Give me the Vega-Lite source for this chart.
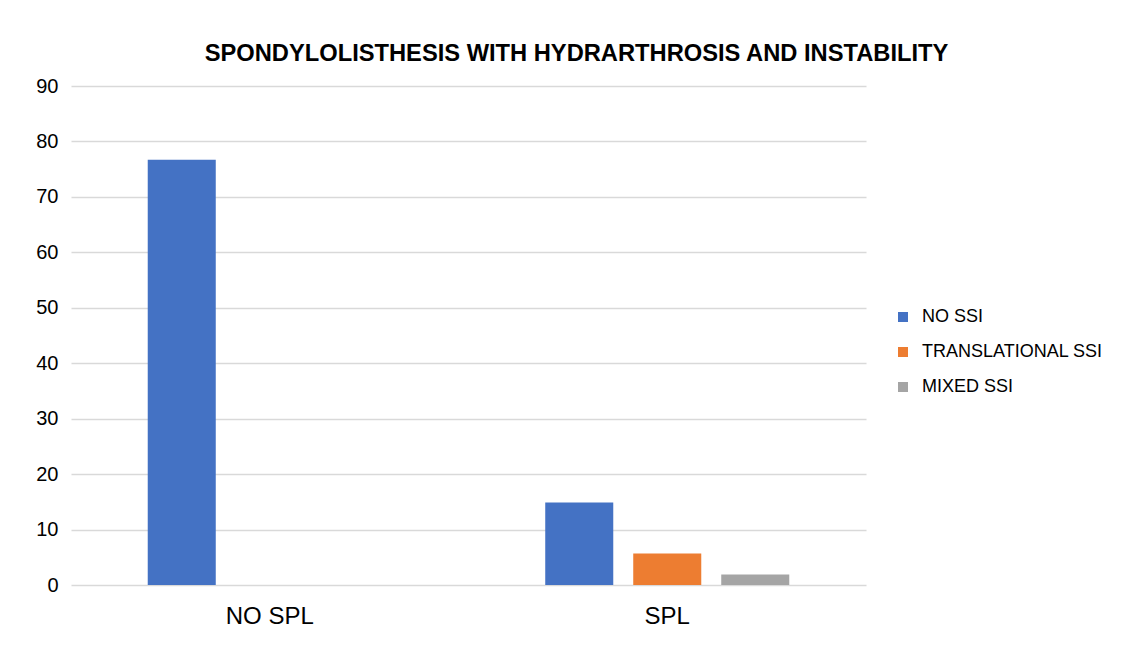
{
  "$schema": "https://vega.github.io/schema/vega-lite/v6.json",
  "width": 795,
  "height": 499,
  "padding": {"left": 35, "top": 42, "right": 10, "bottom": 10},
  "background": "white",
  "title": {
    "text": "SPONDYLOLISTHESIS WITH HYDRARTHROSIS AND INSTABILITY",
    "fontSize": 23.7,
    "fontWeight": "bold",
    "font": "Liberation Sans",
    "color": "#000000",
    "anchor": "middle",
    "dx": 108,
    "offset": 10
  },
  "data": {
    "values": [
      {"group": "NO SPL", "series": "NO SSI", "value": 76.7},
      {"group": "NO SPL", "series": "TRANSLATIONAL SSI", "value": 0},
      {"group": "NO SPL", "series": "MIXED SSI", "value": 0},
      {"group": "SPL", "series": "NO SSI", "value": 14.9},
      {"group": "SPL", "series": "TRANSLATIONAL SSI", "value": 5.7},
      {"group": "SPL", "series": "MIXED SSI", "value": 1.9}
    ]
  },
  "mark": {"type": "bar"},
  "encoding": {
    "x": {
      "field": "group",
      "type": "nominal",
      "sort": ["NO SPL", "SPL"],
      "scale": {"paddingInner": 0, "paddingOuter": 0},
      "axis": {
        "title": null,
        "labelAngle": 0,
        "labelFontSize": 24,
        "labelFont": "Liberation Sans",
        "labelColor": "#000000",
        "domain": false,
        "ticks": false,
        "labelPadding": 19
      }
    },
    "xOffset": {
      "field": "series",
      "type": "nominal",
      "sort": ["NO SSI", "TRANSLATIONAL SSI", "MIXED SSI"],
      "scale": {"paddingInner": 0.227, "paddingOuter": 0.872}
    },
    "y": {
      "field": "value",
      "type": "quantitative",
      "scale": {"domain": [0, 90], "nice": false},
      "axis": {
        "title": null,
        "values": [0, 10, 20, 30, 40, 50, 60, 70, 80, 90],
        "domain": false,
        "ticks": false,
        "labelFontSize": 20,
        "labelFont": "Liberation Sans",
        "labelColor": "#000000",
        "labelPadding": 13,
        "gridColor": "#d9d9d9",
        "gridWidth": 1.5
      }
    },
    "color": {
      "field": "series",
      "type": "nominal",
      "sort": ["NO SSI", "TRANSLATIONAL SSI", "MIXED SSI"],
      "scale": {
        "domain": ["NO SSI", "TRANSLATIONAL SSI", "MIXED SSI"],
        "range": ["#4472c4", "#ed7d31", "#a5a5a5"]
      },
      "legend": {
        "title": null,
        "orient": "none",
        "legendX": 823,
        "legendY": 222,
        "symbolType": "square",
        "symbolSize": 100,
        "symbolStrokeWidth": 0,
        "labelFontSize": 18,
        "labelFont": "Liberation Sans",
        "labelColor": "#000000",
        "labelLimit": 400,
        "rowPadding": 17,
        "labelOffset": 10
      }
    }
  },
  "config": {"view": {"stroke": null}}
}
